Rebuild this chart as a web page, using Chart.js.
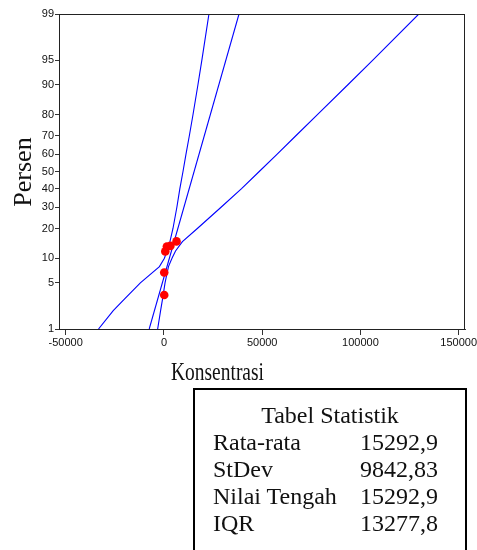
<!DOCTYPE html>
<html>
<head>
<meta charset="utf-8">
<script src="https://cdn.jsdelivr.net/npm/chart.js@4/dist/chart.umd.min.js"></script>
<style>
  html, body { margin: 0; padding: 0; background: #fff; }
  #wrap { position: relative; width: 477px; height: 550px; overflow: hidden; }
  #stats {
    position: absolute; left: 193px; top: 388px; width: 274px; height: 200px;
    border: 2px solid #000; border-bottom: none;
    font-family: "Liberation Serif", "Times New Roman", serif; font-size: 24px;
    line-height: 27px; color: #111; padding-top: 12px; box-sizing: border-box;
  }
  #stats .title { text-align: center; }
  #stats .row { display: flex; justify-content: space-between; padding: 0 27px 0 18px; }
</style>
</head>
<body>
<div id="wrap">
  <canvas id="probChart" width="477" height="550"></canvas>
  <div id="stats">
    <div class="title">Tabel Statistik</div>
    <div class="row"><span>Rata-rata</span><span>15292,9</span></div>
    <div class="row"><span>StDev</span><span>9842,83</span></div>
    <div class="row"><span>Nilai Tengah</span><span>15292,9</span></div>
    <div class="row"><span>IQR</span><span>13277,8</span></div>
  </div>
</div>
<script>
// Data
const percentTicks = [1, 5, 10, 20, 30, 40, 50, 60, 70, 80, 90, 95, 99];
const xTicks = [-50000, 0, 50000, 100000, 150000];

const obsX = [150, 150, 700, 1500, 3300, 6400];
const obsPct = [3.4, 6.8, 11.9, 13.4, 13.6, 15.1];

const fitPct = [1, 99];
const fitX = [-7500, 38200];

const bandPct = [1, 2, 3, 5, 8, 10, 12, 15, 20, 30, 40, 50, 60, 70, 80, 90, 95, 99];
const lowerX = [-33300, -25800, -20000, -12000, -2300, 250, 1500, 3050, 4600, 6600, 8100, 9700, 11200, 12900, 14800, 17300, 19300, 22900];
const upperX = [-3200, -1700, -700, 560, 2300, 4100, 5900, 9400, 17000, 29200, 39500, 48500, 57500, 67000, 78100, 93600, 106300, 129700];

const tickFont = '"Liberation Sans Narrow", "Arial Narrow", "Liberation Sans", sans-serif';

// inverse normal CDF (Acklam) used by the probability scale
function probit(p) {
  const a = [-39.69683028665376, 220.9460984245205, -275.9285104469687, 138.357751867269, -30.66479806614716, 2.506628277459239];
  const b = [-54.47609879822406, 161.5858368580409, -155.6989798598866, 66.80131188771720, -13.28068155288572];
  const c = [-0.007784894002430293, -0.3223964580411365, -2.400758277161838, -2.549732539343734, 4.374664141464968, 2.938163982698783];
  const d = [0.007784695709041462, 0.3224671290700398, 2.445134137142996, 3.754408661907416];
  const pl = 0.02425;
  let q, r;
  if (p < pl) {
    q = Math.sqrt(-2 * Math.log(p));
    return (((((c[0] * q + c[1]) * q + c[2]) * q + c[3]) * q + c[4]) * q + c[5]) /
      ((((d[0] * q + d[1]) * q + d[2]) * q + d[3]) * q + 1);
  }
  if (p > 1 - pl) {
    q = Math.sqrt(-2 * Math.log(1 - p));
    return -(((((c[0] * q + c[1]) * q + c[2]) * q + c[3]) * q + c[4]) * q + c[5]) /
      ((((d[0] * q + d[1]) * q + d[2]) * q + d[3]) * q + 1);
  }
  q = p - 0.5;
  r = q * q;
  return (((((a[0] * r + a[1]) * r + a[2]) * r + a[3]) * r + a[4]) * r + a[5]) * q /
    (((((b[0] * r + b[1]) * r + b[2]) * r + b[3]) * r + b[4]) * r + 1);
}

function normCdf(z) {
  // simple erf approximation, only used for pixel -> value
  const t = 1 / (1 + 0.3275911 * Math.abs(z) / Math.SQRT2);
  const y = 1 - (((((1.061405429 * t - 1.453152027) * t) + 1.421413741) * t - 0.284496736) * t + 0.254829592) * t * Math.exp(-z * z / 2);
  return z >= 0 ? (1 + y) / 2 : (1 - y) / 2;
}

// Normal probability axis (values in percent)
class ProbitScale extends Chart.Scale {
  parse(raw) { return +raw; }
  determineDataLimits() {
    this.min = this.options.min;
    this.max = this.options.max;
  }
  buildTicks() {
    return percentTicks.map((v) => ({ value: v }));
  }
  configure() {
    super.configure();
    this._zMin = probit(this.min / 100);
    this._zRange = probit(this.max / 100) - this._zMin;
  }
  getLabelForValue(v) { return String(v); }
  getPixelForValue(v) {
    return this.getPixelForDecimal((probit(v / 100) - this._zMin) / this._zRange);
  }
  getValueForPixel(px) {
    return normCdf(this.getDecimalForPixel(px) * this._zRange + this._zMin) * 100;
  }
}
ProbitScale.id = "probit";
ProbitScale.defaults = {};
Chart.register(ProbitScale);

const toPoints = (xs, ps) => xs.map((x, i) => ({ x: x, y: ps[i] }));

const framePlugin = {
  id: "frameAndTitles",
  afterDraw(chart) {
    const ctx = chart.ctx;
    const a = chart.chartArea;
    ctx.save();
    ctx.strokeStyle = "#222";
    ctx.lineWidth = 1;
    ctx.strokeRect(Math.round(a.left) + 0.5, Math.round(a.top) + 0.5, Math.round(a.right - a.left) - 1, Math.round(a.bottom - a.top));

    // x title, condensed
    ctx.fillStyle = "#111";
    ctx.font = '25px "Liberation Serif", "Times New Roman", serif';
    ctx.textBaseline = "alphabetic";
    const label = "Konsentrasi";
    const w = ctx.measureText(label).width;
    ctx.translate(171, 380);
    ctx.scale(93 / w, 1);
    ctx.fillText(label, 0, 0);
    ctx.restore();

    // y title
    ctx.save();
    ctx.fillStyle = "#111";
    ctx.font = '26px "Liberation Serif", "Times New Roman", serif';
    ctx.translate(31, 172);
    ctx.rotate(-Math.PI / 2);
    ctx.textAlign = "center";
    ctx.fillText("Persen", 0, 0);
    ctx.restore();
  },
};

const ctx = document.getElementById("probChart").getContext("2d");
new Chart(ctx, {
  type: "scatter",
  data: {
    datasets: [
      {
        label: "Data",
        data: toPoints(obsX, obsPct),
        backgroundColor: "#ff0000",
        borderWidth: 0,
        pointRadius: 4.3,
      },
      {
        label: "Fit",
        data: toPoints(fitX, fitPct),
        showLine: true,
        borderColor: "#0000ff",
        borderWidth: 1.1,
        pointRadius: 0,
      },
      {
        label: "Lower",
        data: toPoints(lowerX, bandPct),
        showLine: true,
        borderColor: "#0000ff",
        borderWidth: 1.1,
        pointRadius: 0,
      },
      {
        label: "Upper",
        data: toPoints(upperX, bandPct),
        showLine: true,
        borderColor: "#0000ff",
        borderWidth: 1.1,
        pointRadius: 0,
      },
    ],
  },
  options: {
    responsive: false,
    animation: false,
    layout: { padding: { left: 0, top: 14, right: 12, bottom: 0 } },
    plugins: {
      legend: { display: false },
      tooltip: { enabled: false },
    },
    scales: {
      x: {
        type: "linear",
        min: -53400,
        max: 153200,
        afterBuildTicks: (scale) => {
          scale.ticks = xTicks.map((v) => ({ value: v }));
        },
        afterFit: (scale) => {
          scale.height = 221;
          scale.paddingLeft = 0;
          scale.paddingRight = 0;
        },
        grid: { drawOnChartArea: false, drawTicks: true, tickLength: 6, color: "#333", tickWidth: 1 },
        border: { display: true, color: "#333", width: 1 },
        ticks: {
          autoSkip: false,
          maxRotation: 0,
          padding: 1,
          color: "#111",
          font: { family: tickFont, size: 11 },
          callback: (v) => String(v),
        },
      },
      y: {
        type: "probit",
        min: 1,
        max: 99,
        afterFit: (scale) => {
          scale.width = 59;
        },
        grid: { drawOnChartArea: false, drawTicks: true, tickLength: 4, color: "#333", tickWidth: 1 },
        border: { display: true, color: "#333", width: 1 },
        ticks: {
          autoSkip: false,
          padding: 1,
          color: "#111",
          font: { family: tickFont, size: 11 },
        },
      },
    },
  },
  plugins: [framePlugin],
});
</script>
</body>
</html>
